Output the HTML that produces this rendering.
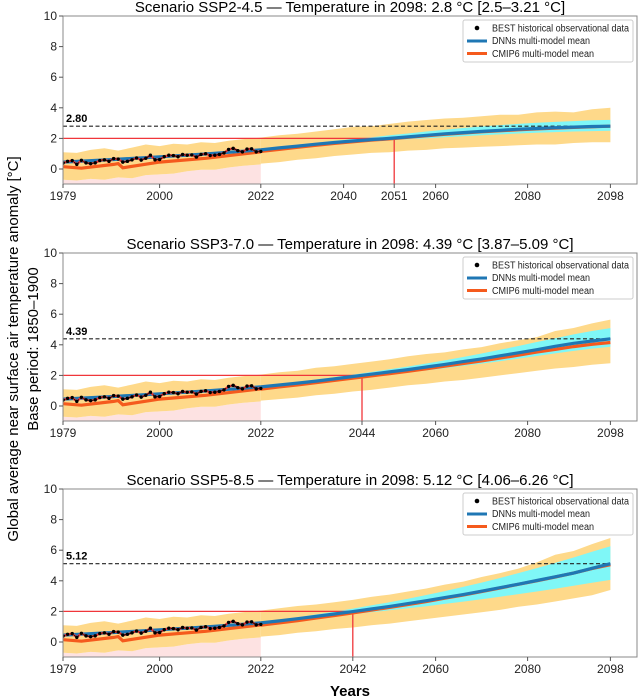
<!DOCTYPE html>
<html><head><meta charset="utf-8"><style>
html,body{margin:0;padding:0;background:#fff;}
svg{display:block;font-family:"Liberation Sans",sans-serif;}
</style></head><body>
<svg id="chart" width="640" height="698" viewBox="0 0 640 698" xmlns="http://www.w3.org/2000/svg">
<text x="14" y="349" transform="rotate(-90 14 349)" text-anchor="middle" dominant-baseline="middle" font-size="15" fill="#000">Global average near surface air temperature anomaly [°C]</text>
<text x="34" y="349" transform="rotate(-90 34 349)" text-anchor="middle" dominant-baseline="middle" font-size="15" fill="#000">Base period: 1850–1900</text>
<text x="350" y="696" text-anchor="middle" font-size="15" font-weight="bold" fill="#000">Years</text>
</svg>
<script>
// ---- shared historical data ----
const histYears = [1979,1980,1981,1982,1983,1984,1985,1986,1987,1988,1989,1990,1991,1992,1993,1994,1995,1996,1997,1998,1999,2000,2001,2002,2003,2004,2005,2006,2007,2008,2009,2010,2011,2012,2013,2014,2015,2016,2017,2018,2019,2020,2021,2022];
const obsValues = [0.38,0.5,0.55,0.3,0.57,0.4,0.35,0.4,0.55,0.6,0.5,0.68,0.65,0.45,0.5,0.6,0.72,0.58,0.7,0.9,0.6,0.62,0.8,0.9,0.88,0.8,0.95,0.9,0.92,0.78,0.95,1.0,0.88,0.9,0.95,1.05,1.28,1.35,1.2,1.12,1.3,1.32,1.12,1.15];
const dnnHistYears = [1979,1990,2000,2010,2022];
const dnnHistValues = [0.45,0.62,0.8,0.98,1.25];
const cmipHistYears = [1979,1983,1990,1991,1992,2000,2010,2022];
const cmipHistValues = [0.15,0.05,0.3,0.35,0.08,0.45,0.7,1.12];
const bandHistYears = [1979,1982,1985,1988,1991,1994,1997,2000,2003,2006,2009,2012,2015,2018,2022];
const bandHistUpper = [1.1,1.05,1.25,1.35,1.2,1.4,1.6,1.5,1.65,1.6,1.75,1.7,1.85,1.95,2.05];
const bandHistLower = [-0.7,-0.75,-0.65,-0.7,-0.55,-0.6,-0.4,-0.35,-0.3,-0.15,-0.05,-0.05,0.1,0.2,0.3];

// ---- future data ----
const futYears = [2022,2026,2030,2034,2038,2042,2046,2050,2054,2058,2062,2066,2070,2074,2078,2082,2086,2090,2094,2098];

const s1Dnn   = [1.25,1.38,1.5,1.62,1.73,1.83,1.92,2.0,2.1,2.2,2.3,2.38,2.46,2.53,2.6,2.65,2.7,2.74,2.78,2.8];
const s1Cmip  = [1.15,1.28,1.42,1.55,1.67,1.78,1.88,1.97,2.07,2.17,2.27,2.35,2.43,2.5,2.56,2.62,2.67,2.72,2.76,2.8];
const s1CyanU = [1.3,1.45,1.58,1.72,1.84,1.96,2.08,2.2,2.32,2.45,2.57,2.68,2.78,2.87,2.95,3.02,3.08,3.13,3.18,3.21];
const s1CyanL = [1.2,1.32,1.43,1.53,1.62,1.71,1.79,1.86,1.94,2.01,2.08,2.14,2.2,2.26,2.32,2.37,2.41,2.45,2.48,2.5];
const s1OrU   = [2.05,2.2,2.3,2.45,2.6,2.75,2.8,2.95,3.1,3.2,3.3,3.35,3.45,3.55,3.55,3.7,3.75,3.7,3.9,4.0];
const s1OrL   = [0.35,0.45,0.6,0.7,0.85,0.95,1.05,1.1,1.2,1.25,1.35,1.4,1.45,1.5,1.55,1.6,1.6,1.7,1.75,1.75];

const s2Dnn   = [1.25,1.37,1.5,1.63,1.77,1.93,2.08,2.23,2.38,2.55,2.72,2.9,3.08,3.28,3.48,3.68,3.9,4.1,4.25,4.39];
const s2Cmip  = [1.1,1.25,1.38,1.52,1.67,1.82,1.97,2.12,2.27,2.43,2.6,2.77,2.95,3.13,3.32,3.52,3.7,3.88,4.03,4.15];
const s2CyanU = [1.3,1.44,1.58,1.73,1.88,2.05,2.22,2.4,2.58,2.78,2.98,3.2,3.43,3.67,3.92,4.18,4.43,4.68,4.9,5.09];
const s2CyanL = [1.2,1.31,1.43,1.55,1.67,1.8,1.93,2.06,2.19,2.33,2.47,2.62,2.77,2.93,3.1,3.27,3.44,3.6,3.75,3.87];
const s2OrU   = [2.05,2.2,2.3,2.5,2.6,2.75,2.9,3.05,3.25,3.4,3.5,3.7,3.85,4.1,4.3,4.5,4.9,5.1,5.4,5.65];
const s2OrL   = [0.35,0.45,0.55,0.7,0.8,0.95,1.05,1.2,1.35,1.45,1.6,1.7,1.85,2.0,2.15,2.3,2.45,2.55,2.7,2.8];

const s3Dnn   = [1.25,1.38,1.52,1.67,1.83,1.99,2.16,2.33,2.51,2.7,2.9,3.1,3.32,3.55,3.78,4.02,4.26,4.5,4.82,5.12];
const s3Cmip  = [1.1,1.25,1.4,1.56,1.73,1.9,2.08,2.26,2.45,2.65,2.86,3.07,3.3,3.53,3.77,4.0,4.25,4.5,4.8,5.05];
const s3CyanU = [1.3,1.46,1.62,1.8,1.99,2.18,2.39,2.6,2.83,3.07,3.33,3.6,3.88,4.18,4.5,4.83,5.17,5.52,5.9,6.26];
const s3CyanL = [1.2,1.31,1.43,1.56,1.68,1.81,1.94,2.07,2.2,2.34,2.49,2.64,2.8,2.96,3.13,3.3,3.48,3.67,3.87,4.06];
const s3OrU   = [2.05,2.2,2.35,2.45,2.6,2.75,2.95,3.1,3.3,3.5,3.75,3.95,4.25,4.5,4.8,5.2,5.7,5.95,6.4,6.8];
const s3OrL   = [0.35,0.45,0.6,0.7,0.85,0.95,1.1,1.2,1.35,1.5,1.65,1.8,1.95,2.1,2.3,2.45,2.65,2.85,3.05,3.4];

const scenarioNames = ["SSP2-4.5","SSP3-7.0","SSP5-8.5"];
const finalValues = [2.8,4.39,5.12];
const finalLabels = ["2.80","4.39","5.12"];
const rangeLabels = ["2.5–3.21","3.87–5.09","4.06–6.26"];
const crossYears = [2051,2044,2042];
const xTickSets = [[1979,2000,2022,2040,2051,2060,2080,2098],[1979,2000,2022,2044,2060,2080,2098],[1979,2000,2022,2042,2060,2080,2098]];
const yTicks = [0,2,4,6,8,10];
const futureSeries = [
  [s1Dnn,s1Cmip,s1CyanU,s1CyanL,s1OrU,s1OrL],
  [s2Dnn,s2Cmip,s2CyanU,s2CyanL,s2OrU,s2OrL],
  [s3Dnn,s3Cmip,s3CyanU,s3CyanL,s3OrU,s3OrL]
];

const NS = "http://www.w3.org/2000/svg";
const svg = document.getElementById("chart");
const LEFT = 63, RIGHT = 637, PX_YEAR = 4.6, PX_UNIT = 15.3;
const panelTops = [16,253,489];

function mk(tag, attrs, parent) {
  const e = document.createElementNS(NS, tag);
  for (const k in attrs) e.setAttribute(k, attrs[k]);
  parent.appendChild(e);
  return e;
}

panelTops.forEach(function(top, p) {
  const bottom = top + 168;
  const zeroY = top + 153;
  const xs = function(yr){ return LEFT + (yr - 1979) * PX_YEAR; };
  const ys = function(v){ return zeroY - v * PX_UNIT; };
  const line = function(years, vals){ return years.map(function(y,i){ return (i?"L":"M") + xs(y).toFixed(1) + "," + ys(vals[i]).toFixed(1); }).join(""); };
  const band = function(years, up, lo){
    let d = line(years, up);
    for (let i = years.length - 1; i >= 0; i--) d += "L" + xs(years[i]).toFixed(1) + "," + ys(lo[i]).toFixed(1);
    return d + "Z";
  };
  const fs = futureSeries[p];

  const g = mk("g", {}, svg);
  
  

  const cp = mk("clipPath", {id: "clip" + p}, g);
  mk("rect", {x: LEFT, y: top, width: RIGHT - LEFT, height: 168}, cp);
  const plot = mk("g", {"clip-path": "url(#clip" + p + ")"}, g);

  let pd = "M" + xs(1979) + "," + bottom;
  bandHistYears.forEach(function(y,i){ pd += "L" + xs(y).toFixed(1) + "," + ys(bandHistLower[i]).toFixed(1); });
  pd += "L" + xs(2022) + "," + bottom + "Z";
  const pink = mk("path", {d: pd, fill: "#fde2e2"}, plot);
  
  

  const ob1 = mk("path", {d: band(bandHistYears, bandHistUpper, bandHistLower), fill: "#fed98a"}, plot);
  
  
  const ob2 = mk("path", {d: band(futYears, fs[4], fs[5]), fill: "#fed98a"}, plot);
  
  
  const cb = mk("path", {d: band(futYears, fs[2], fs[3]), fill: "#7ff7f7"}, plot);
  
  

  const rh = mk("line", {x1: LEFT, x2: xs(crossYears[p]), y1: ys(2), y2: ys(2), stroke: "#f0363a", "stroke-width": 1.3}, plot);
  
  
  const rv = mk("line", {x1: xs(crossYears[p]), x2: xs(crossYears[p]), y1: ys(2), y2: bottom, stroke: "#f0363a", "stroke-width": 1.3}, plot);
  
  

  const dl = mk("line", {x1: LEFT, x2: xs(2098), y1: ys(finalValues[p]), y2: ys(finalValues[p]), stroke: "#222", "stroke-width": 1.1, "stroke-dasharray": "4,2.5"}, plot);
  
  

  const cm1 = mk("path", {d: line(cmipHistYears, cmipHistValues), fill: "none", stroke: "#f55a1d", "stroke-width": 3.2}, plot);
  
  
  const cm2 = mk("path", {d: line(futYears, fs[1]), fill: "none", stroke: "#f55a1d", "stroke-width": 3.2}, plot);
  
  
  const dm1 = mk("path", {d: line(dnnHistYears, dnnHistValues), fill: "none", stroke: "#1f77b4", "stroke-width": 3.2}, plot);
  
  
  const dm2 = mk("path", {d: line(futYears, fs[0]), fill: "none", stroke: "#1f77b4", "stroke-width": 3.2}, plot);
  
  

  const od = line(histYears, obsValues);
  const ol1 = mk("path", {d: od, fill: "none", stroke: "#f0363a", "stroke-width": 2.2}, plot);
  
  
  const ol2 = mk("path", {d: od, fill: "none", stroke: "#111", "stroke-width": 1, "stroke-dasharray": "2.5,1.5"}, plot);
  
  
  histYears.forEach(function(y,i){
    const c = mk("circle", {cx: xs(y), cy: ys(obsValues[i]), r: 1.7, fill: "#000"}, plot);
    
    
  });

  const fl = mk("text", {x: LEFT + 3, y: ys(finalValues[p]) - 4, "font-size": 11, "font-weight": "bold", fill: "#000"}, g);
  fl.textContent = finalLabels[p];
  
  

  const fr = mk("rect", {x: LEFT, y: top, width: RIGHT - LEFT, height: 168, fill: "none", stroke: "#888", "stroke-width": 1}, g);
  
  

  yTicks.forEach(function(v){
    const t = mk("line", {x1: LEFT - 4, x2: LEFT, y1: ys(v), y2: ys(v), stroke: "#555"}, g);
    
    
    const tl = mk("text", {x: LEFT - 6, y: ys(v) + 4, "text-anchor": "end", "font-size": 12, fill: "#222"}, g);
    tl.textContent = v;
    
    
  });
  xTickSets[p].forEach(function(yr){
    const t = mk("line", {x1: xs(yr), x2: xs(yr), y1: bottom, y2: bottom + 4, stroke: "#555"}, g);
    
    
    const tl = mk("text", {x: xs(yr), y: bottom + 16, "text-anchor": "middle", "font-size": 12, fill: "#222"}, g);
    tl.textContent = yr;
    
    
  });

  const ti = mk("text", {x: 350, y: top - 4, "text-anchor": "middle", "font-size": 15, fill: "#000"}, g);
  ti.textContent = "Scenario " + scenarioNames[p] + " — Temperature in 2098: " + finalValues[p] + " °C [" + rangeLabels[p] + " °C]";
  
  

  const lg = mk("g", {}, g);
  
  
  mk("rect", {x: 463, y: top + 4, width: 170, height: 42, rx: 2, fill: "#fff", "fill-opacity": 0.9, stroke: "#ccc"}, lg);
  const e1 = mk("circle", {cx: 477, cy: top + 12, r: 2.3, fill: "#000"}, lg);
  
  
  const e2 = mk("line", {x1: 467, x2: 487, y1: top + 25, y2: top + 25, stroke: "#1f77b4", "stroke-width": 3}, lg);
  
  
  const e3 = mk("line", {x1: 467, x2: 487, y1: top + 37.5, y2: top + 37.5, stroke: "#f55a1d", "stroke-width": 3}, lg);
  
  
  const labels = ["BEST historical observational data","DNNs multi-model mean","CMIP6 multi-model mean"];
  const labelLens = [137,98,102];
  labels.forEach(function(s,i){
    const t = mk("text", {x: 492, y: top + 15.5 + i * 12.7, "font-size": 10, fill: "#222", textLength: labelLens[i], lengthAdjust: "spacingAndGlyphs"}, lg);
    t.textContent = s;
    
    
  });
});
</script>
</body></html>
